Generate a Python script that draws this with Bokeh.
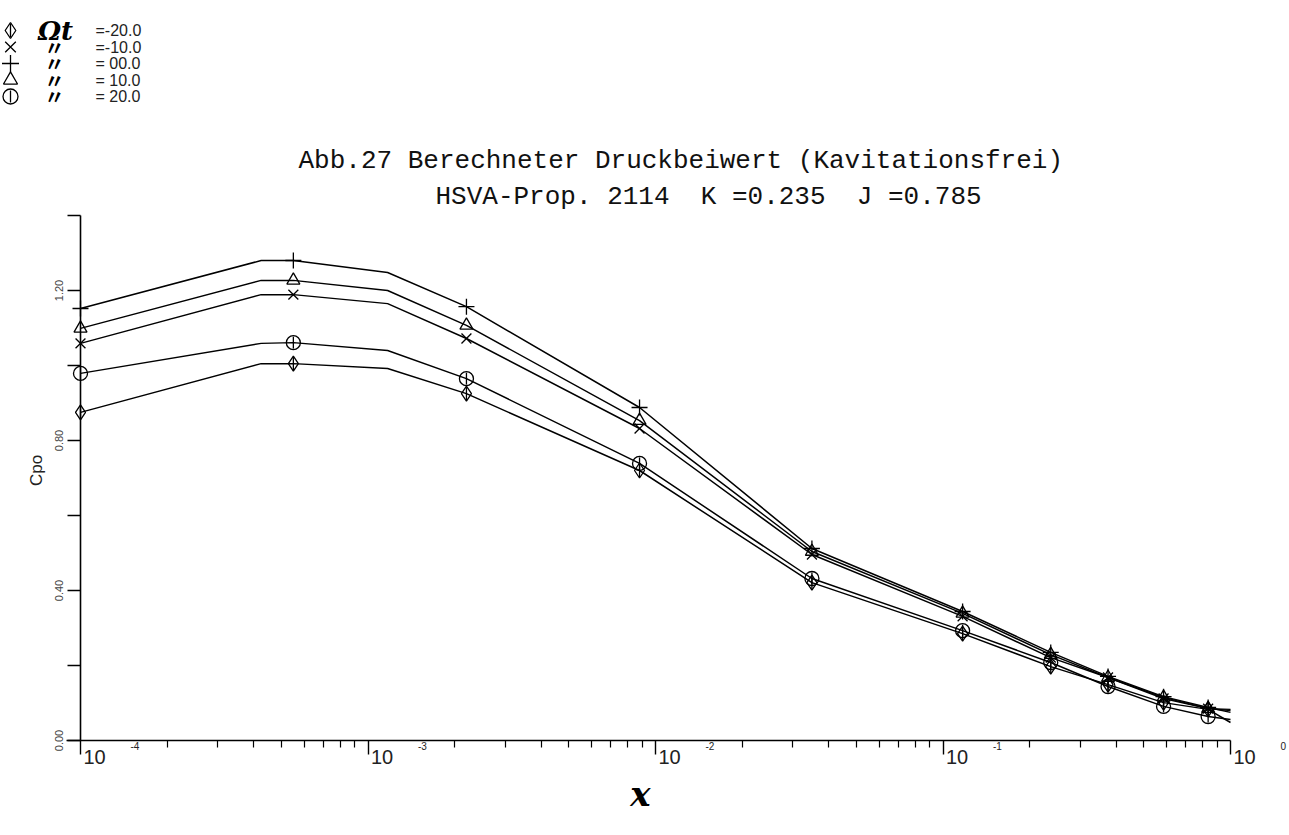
import math
from bokeh.plotting import figure
from bokeh.models import FixedTicker, NumeralTickFormatter, CustomJSTickFormatter, Range1d
from bokeh.core.properties import value
from bokeh.embed import file_html
from bokeh.resources import INLINE

# ---- data -------------------------------------------------------------
# radial position x (log axis); points where the plotted curve has vertices
X_CURVE = [1.0e-4, 4.25e-4, 5.5e-4, 1.17e-3, 2.2e-3, 8.8e-3, 0.035,
           0.117, 0.237, 0.375, 0.585, 0.836, 1.0]
# which curve vertices carry a plot symbol
MARKED = [True, False, True, False, True, True, True,
          True, True, True, True, True, False]

# blade angle of each curve (legend values)
ALPHA = [-20.0, -10.0, 0.0, 10.0, 20.0]

CP_M20 = [0.875, 1.005, 1.005, 0.992, 0.925, 0.720, 0.421, 0.285, 0.197, 0.149, 0.101, 0.083, 0.048]
CP_M10 = [1.059, 1.189, 1.189, 1.165, 1.072, 0.832, 0.496, 0.331, 0.221, 0.168, 0.112, 0.085, 0.083]
CP_00 = [1.152, 1.280, 1.280, 1.248, 1.157, 0.888, 0.512, 0.344, 0.235, 0.171, 0.117, 0.088, 0.075]
CP_P10 = [1.099, 1.227, 1.227, 1.200, 1.107, 0.853, 0.504, 0.339, 0.229, 0.168, 0.115, 0.085, 0.080]
CP_P20 = [0.979, 1.059, 1.061, 1.040, 0.965, 0.739, 0.432, 0.293, 0.208, 0.144, 0.091, 0.064, 0.056]

Y_MAJOR = [0.0, 0.4, 0.8, 1.2]
Y_MINOR = [0.2, 0.6, 1.0, 1.4]
X_DECADES = [-4, -3, -2, -1, 0]

NB2 = "\u00a0\u00a0"
TITLE_1 = "Abb.27 Berechneter Druckbeiwert (Kavitationsfrei)"
TITLE_2 = "HSVA-Prop. 2114" + NB2 + "K =0.235" + NB2 + "J =0.785"

# ---- geometry ---------------------------------------------------------
# The plotting frame spans the whole page; the axes are pinned at x=1e-4
# and Cp=0 so that symbols, legend and captions can sit around them.
W, H = 1289, 835
AX_LEFT, AX_RIGHT = 80, 1230      # pixel columns of x = 1e-4 and x = 1
AX_BOTTOM, AX_TOP = 740, 215      # pixel rows of Cp = 0 and Cp = 1.4
X0, X1 = 1e-4, 1.0
Y0, Y1 = 0.0, 1.4

PX_PER_DEC = (AX_RIGHT - AX_LEFT) / (math.log10(X1) - math.log10(X0))
PX_PER_UNIT = (AX_BOTTOM - AX_TOP) / (Y1 - Y0)

x_lo = 10 ** (math.log10(X0) - AX_LEFT / PX_PER_DEC)
x_hi = 10 ** (math.log10(X1) + (W - AX_RIGHT) / PX_PER_DEC)
y_lo = Y0 - (H - AX_BOTTOM) / PX_PER_UNIT
y_hi = Y1 + AX_TOP / PX_PER_UNIT


def at(px, py):
    """page pixel -> data coordinates"""
    lx = math.log10(X0) + (px - AX_LEFT) / PX_PER_DEC
    return 10 ** lx, Y0 + (AX_BOTTOM - py) / PX_PER_UNIT


def xpx(x):
    return AX_LEFT + (math.log10(x) - math.log10(X0)) * PX_PER_DEC


p = figure(width=W, height=H, x_axis_type="log",
           x_range=Range1d(x_lo, x_hi), y_range=Range1d(y_lo, y_hi),
           output_backend="svg", toolbar_location=None, title=None,
           min_border=0, min_border_left=0, min_border_right=0,
           min_border_top=0, min_border_bottom=0)
p.outline_line_color = None
p.xgrid.visible = False
p.ygrid.visible = False
p.background_fill_color = "white"
p.border_fill_color = "white"

# ---- axes -------------------------------------------------------------
xa = p.xaxis[0]
xa.fixed_location = Y0
xa.bounds = (at(AX_LEFT - 14, 0)[0], X1)   # baseline runs a little past the Cp axis
xa.ticker = FixedTicker(ticks=[10.0 ** d for d in X_DECADES],
                        minor_ticks=[k * 10.0 ** d for d in X_DECADES[:-1] for k in range(2, 10)])
xa.formatter = CustomJSTickFormatter(code="return ''")
xa.axis_line_color = "black"
xa.axis_line_width = 1.6
xa.major_tick_in = 0
xa.major_tick_out = 14
xa.minor_tick_in = 0
xa.minor_tick_out = 7
xa.major_tick_line_color = "black"
xa.minor_tick_line_color = "black"
xa.major_tick_line_width = 1.4
xa.minor_tick_line_width = 1.2

ya = p.yaxis[0]
ya.fixed_location = X0
ya.bounds = (Y0, Y1)
ya.ticker = FixedTicker(ticks=Y_MAJOR, minor_ticks=Y_MINOR)
ya.formatter = NumeralTickFormatter(format="0.00")
ya.axis_line_color = "black"
ya.axis_line_width = 1.6
ya.major_tick_in = 0
ya.major_tick_out = 13
ya.minor_tick_in = 0
ya.minor_tick_out = 13
ya.major_tick_line_color = "black"
ya.minor_tick_line_color = "black"
ya.major_tick_line_width = 1.4
ya.minor_tick_line_width = 1.4
ya.major_label_orientation = "vertical"
ya.major_label_text_font = "Liberation Sans"
ya.major_label_text_font_size = "11px"
ya.major_label_text_color = "#444444"
ya.major_label_standoff = 5


def put(px, py, text, font="Liberation Sans", size="12px", style="normal",
        align="left", baseline="middle", angle=0.0, color="#111111"):
    x, y = at(px, py)
    p.text(x=[x], y=[y], text=[text], angle=angle,
           text_font=value(font), text_font_size=value(size),
           text_font_style=style, text_align=align, text_baseline=baseline,
           text_color=color)


# ---- curves -----------------------------------------------------------
series = [
    (CP_M20, "diamond", 15, True),
    (CP_M10, "x", 14, False),
    (CP_00, "cross", 16, False),
    (CP_P10, "triangle", 13, False),
    (CP_P20, "circle", 14, True),
]

for cp, marker, size, with_bar in series:
    p.line(X_CURVE, cp, line_color="black", line_width=1.5)
    mx = [x for x, m in zip(X_CURVE, MARKED) if m]
    my = [y for y, m in zip(cp, MARKED) if m]
    p.scatter(mx, my, marker=marker, size=size, fill_color=None,
              line_color="black", line_width=1.3)
    if with_bar:
        p.scatter(mx, my, marker="dash", size=size - 2, angle=math.pi / 2,
                  line_color="black", line_width=1.3)

# ---- x tick labels 10^n -----------------------------------------------
for d in X_DECADES:
    tx = xpx(10.0 ** d)
    put(tx + 3, AX_BOTTOM + 9, "10", size="20px", baseline="top", color="#222222")
    put(tx + 50, AX_BOTTOM + 5, str(d), size="10px", color="#222222")

# axis captions
put(640, 793, "x", font="DejaVu Serif", size="34px", style="bold italic",
    align="center", color="black")
put(36, 470, "Cpo", size="17px", align="center", angle=math.pi / 2, color="#222222")

# ---- titles -----------------------------------------------------------
put(298, 160, TITLE_1, font="Liberation Mono", size="26px")
put(435, 196, TITLE_2, font="Liberation Mono", size="26px")

# ---- legend: symbol, angle sign / ditto mark, value --------------------
row_y = [30, 46.5, 63, 79.5, 96]
for i, ((cp, marker, size, with_bar), a, ry) in enumerate(zip(series, ALPHA, row_y)):
    lx, ly = at(10, ry)
    p.scatter([lx], [ly], marker=marker, size=size + 1, fill_color=None,
              line_color="black", line_width=1.3)
    if with_bar:
        p.scatter([lx], [ly], marker="dash", size=size - 2, angle=math.pi / 2,
                  line_color="black", line_width=1.3)
    if i == 0:
        put(55, ry, "Ωt", font="DejaVu Serif", size="26px", style="bold italic",
            align="center", color="black")
    else:
        put(54, ry, "〃", font="Noto Sans CJK JP", size="20px", style="bold",
            align="center", color="black")
    sign = "-" if a < 0 else "\u00a0"
    put(95, ry, f"={sign}{abs(a):04.1f}", size="16px", color="#222222")

open("out.html", "w").write(file_html(p, INLINE))
